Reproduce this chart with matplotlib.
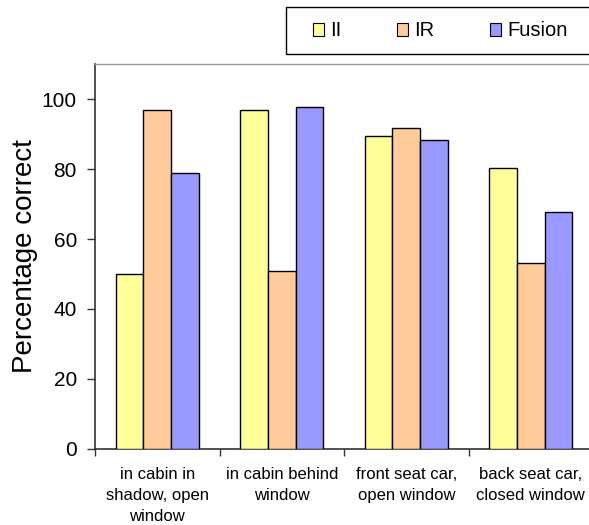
import matplotlib
matplotlib.use("Agg")
import matplotlib.pyplot as plt
from matplotlib.patches import Rectangle, Patch
import numpy as np

plt.rcParams['font.family'] = ['Liberation Sans', 'DejaVu Sans']

categories = [
    "in cabin in\nshadow, open\nwindow",
    "in cabin behind\nwindow",
    "front seat car,\nopen window",
    "back seat car,\nclosed window",
]
series_names = ["II", "IR", "Fusion"]
ii_values = [50, 97, 89.5, 80.2]
ir_values = [97, 51, 91.8, 53.2]
fusion_values = [79, 97.6, 88.4, 67.6]
y_ticks = [0, 20, 40, 60, 80, 100]

colors = ["#FFFF99", "#FFCC99", "#9999FF"]

W, H = 589, 525
fig = plt.figure(figsize=(W / 100, H / 100), dpi=100)
ax = fig.add_axes([95 / W, 1 - 449 / H, (593 - 95) / W, (449 - 64) / H])

x = np.arange(len(categories))
bw = 0.221
for i, (vals, c) in enumerate(zip([ii_values, ir_values, fusion_values], colors)):
    ax.bar(x + (i - 1) * bw, vals, width=bw, color=c, edgecolor="black",
           linewidth=1.0, zorder=3)

ax.set_xlim(-0.5, len(categories) - 0.5)
ax.set_ylim(0, 110)

# y axis
ax.set_yticks(y_ticks)
ax.set_yticklabels([str(v) for v in y_ticks], fontsize=15)
ax.tick_params(axis="y", direction="out", length=6, width=1, color="#333333", pad=7)
ax.set_ylabel("Percentage correct", fontsize=20, labelpad=3)

# x axis: boundary ticks, centered category labels
ax.set_xticks(np.arange(-0.5, len(categories) + 0.5, 1.0))
ax.set_xticklabels([])
ax.tick_params(axis="x", which="major", direction="out", length=5, width=1, color="#333333")
ax.set_xticks(x, minor=True)
ax.set_xticklabels(categories, minor=True, fontsize=12, linespacing=1.5)
ax.tick_params(axis="x", which="minor", length=0, pad=13)

for side in ["left", "bottom"]:
    ax.spines[side].set_color("#333333")
    ax.spines[side].set_linewidth(1.2)
ax.spines["top"].set_color("#999999")
ax.spines["top"].set_linewidth(1.0)
ax.spines["right"].set_visible(False)

# legend box
fig.patches.append(Rectangle((286 / W, 1 - 54 / H), (600 - 286) / W, (54 - 7) / H,
                             transform=fig.transFigure, facecolor="white",
                             edgecolor="black", linewidth=1.0, zorder=5))
handles = [Patch(facecolor=c, edgecolor="black", linewidth=0.8) for c in colors]
leg = fig.legend(handles, series_names, loc="center left",
                 bbox_to_anchor=(313 / W, 1 - 31 / H), ncol=3, frameon=False,
                 fontsize=14.5, handlelength=0.56, handleheight=0.56,
                 handletextpad=0.3, columnspacing=2.75, borderaxespad=0,
                 borderpad=0)
leg.set_zorder(6)

fig.savefig("out.png", dpi=100)
